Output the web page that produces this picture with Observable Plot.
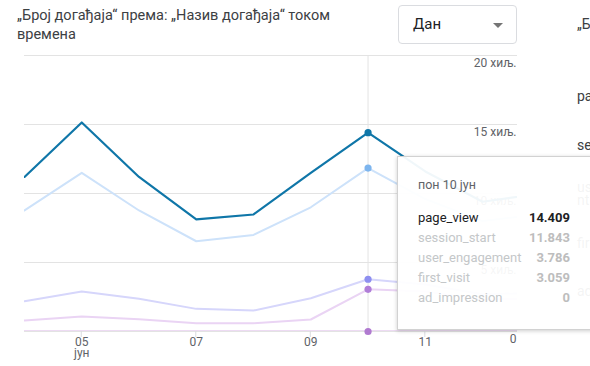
<!DOCTYPE html>
<html><head><meta charset="utf-8">
<script src="https://cdn.jsdelivr.net/npm/d3@7"></script>
<script src="https://cdn.jsdelivr.net/npm/@observablehq/plot@0.6"></script>
<style>
html,body{margin:0;padding:0;background:#fff;}
#wrap{position:relative;width:590px;height:366px;overflow:hidden;font-family:Roboto,"Noto Sans",sans-serif;}
#chart{position:absolute;left:0;top:0;}
.title{position:absolute;left:17px;top:6px;width:340px;font-size:14.5px;line-height:19px;color:#3c4043;}
.dd{position:absolute;left:398px;top:5px;width:117px;height:37px;border:1px solid #dadce0;border-radius:4px;box-sizing:content-box;}
.dd span{position:absolute;left:14px;top:9px;font-size:15px;color:#202124;}
.dd i{position:absolute;left:94px;top:17px;width:0;height:0;border-left:5px solid transparent;border-right:5px solid transparent;border-top:5px solid #757575;}
.side{position:absolute;left:577px;font-size:14px;color:#3c4043;white-space:nowrap;}
.tip{position:absolute;left:397px;top:156px;width:240px;height:172px;background:rgba(255,255,255,0.94);border:1px solid #d2d2d2;box-shadow:0 1px 4px rgba(0,0,0,0.2);}
.tip .d{position:absolute;left:20px;top:20px;font-size:12.5px;color:#5f6368;}
.tip .r{position:absolute;left:20px;width:152px;font-size:13px;color:#c4c7c9;}
.tip .r b{position:absolute;right:0;top:0;font-weight:700;color:#bdbdbd;}
.tip .r.on{color:#202124;}
.tip .r.on b{color:#202124;}
</style></head>
<body><div id="wrap"></div>
<script>
// ---- data ----
const days = [4, 5, 6, 7, 8, 9, 10, 11, 12, 13];
const pageView       = [11200, 15150, 11200, 8120, 8480, 11500, 14409, 11600, 9400, 10000];
const sessionStart   = [8770, 11500, 8770, 6540, 7000, 9000, 11843, 9600, 8000, 8500];
const userEngagement = [2200, 2900, 2370, 1640, 1520, 2410, 3786, 3400, 2700, 2800];
const firstVisit     = [800, 1090, 880, 600, 600, 870, 3059, 2900, 2300, 2400];
const adImpression   = [0, 0, 0, 0, 0, 0, 0, 0, 0, 0];
const seriesNames = ["page_view", "session_start", "user_engagement", "first_visit", "ad_impression"];
const xTicks = [5, 7, 9, 11];
const xTickLabels = ["05\nјун", "07", "09", "11"];
const yTicks = [0, 5000, 10000, 15000, 20000];
const yTickLabels = ["0", "5 хиљ.", "10 хиљ.", "15 хиљ.", "20 хиљ."];
const hoverDay = 10;
const hoverLabel = "пон 10 јун";
const titleText = "„Број догађаја“ према: „Назив догађаја“ током времена";
const periodText = "Дан";
const sideTexts = ["„Број", "page_view", "session_start", "user_engageme", "nt", "first_visit", "ad_impression"];

const allValues = [pageView, sessionStart, userEngagement, firstVisit, adImpression];
const lineColors = ["#0f76a8", "#cde2fa", "#d6d6fb", "#ead4f4", "#dcb8e8"];
const dotColors  = ["#0f76a8", "#7db5ee", "#8e8ff0", "#b07ed8", "#b07ad0"];

const rows = [];
allValues.forEach((vals, s) => vals.forEach((v, i) => rows.push({day: days[i], value: v, series: seriesNames[s]})));
const hi = days.indexOf(hoverDay);
const hoverRows = seriesNames.map((n, s) => ({day: hoverDay, value: allValues[s][hi], series: n}));
const colorOf = Object.fromEntries(seriesNames.map((n, s) => [n, lineColors[s]]));
const dotOf = Object.fromEntries(seriesNames.map((n, s) => [n, dotColors[s]]));
const order = ["ad_impression", "first_visit", "user_engagement", "session_start", "page_view"];

const plot = Plot.plot({
  width: 590, height: 366,
  marginTop: 55, marginBottom: 35, marginLeft: 24, marginRight: 73,
  style: {fontFamily: "Roboto, sans-serif", fontSize: "12px", color: "#5f6368", background: "transparent"},
  x: {type: "linear", domain: [4, 12.61], axis: null},
  y: {domain: [0, 20000], axis: null},
  marks: [
    Plot.gridY(yTicks, {stroke: "#e3e3e3", strokeOpacity: 1}),
    Plot.ruleX([hoverDay], {stroke: "#e3e3e3", strokeWidth: 1}),
    Plot.axisY({anchor: "right", ticks: yTicks, tickSize: 0, tickPadding: 0, textAnchor: "end", dx: -1, dy: 8,
      tickFormat: d => yTickLabels[yTicks.indexOf(d)], fill: "#5f6368", label: null}),
    ...order.map(n => Plot.line(rows.filter(r => r.series === n), {
      x: "day", y: "value", stroke: colorOf[n], strokeWidth: n === "page_view" ? 2.2 : 2, clip: true
    })),
    Plot.dot(hoverRows, {x: "day", y: "value", r: 3.6, fill: d => dotOf[d.series], stroke: null}),
    Plot.text(xTicks, {x: d => d, frameAnchor: "bottom", dy: 6, lineAnchor: "top",
      text: (d, i) => xTickLabels[i], fill: "#5f6368", fontSize: 12, lineHeight: 0.95,
      textAnchor: (d, i) => i === 0 ? "start" : (i === xTicks.length - 1 ? "end" : "middle")})
  ]
});
const wrap = document.getElementById("wrap");
plot.id = "chart";
wrap.appendChild(plot);
// short tick marks below the baseline, placed through the plot's scales
const xs = plot.scale("x");
const ys = plot.scale("y");
d3.select(plot).append("g").selectAll("line").data(xTicks).join("line")
  .attr("x1", d => xs.apply(d)).attr("x2", d => xs.apply(d))
  .attr("y1", ys.apply(0)).attr("y2", ys.apply(0) + 6)
  .attr("stroke", "#dadce0");

// title, dropdown, side texts
const t = document.createElement("div"); t.className = "title"; t.textContent = titleText; wrap.appendChild(t);
const dd = document.createElement("div"); dd.className = "dd";
dd.innerHTML = `<span>${periodText}</span><i></i>`; wrap.appendChild(dd);
const sideTops = [16, 88, 137, 179, 192, 235, 283];
sideTexts.forEach((s, i) => {
  const e = document.createElement("div"); e.className = "side"; e.style.top = sideTops[i] + "px"; e.textContent = s; wrap.appendChild(e);
});

// tooltip
const tip = document.createElement("div"); tip.className = "tip";
let html = `<div class="d">${hoverLabel}</div>`;
seriesNames.forEach((n, s) => {
  const v = allValues[s][hi];
  html += `<div class="r${s === 0 ? " on" : ""}" style="top:${53 + s * 20}px">${n}<b>${v.toLocaleString("de-DE")}</b></div>`;
});
tip.innerHTML = html;
wrap.appendChild(tip);
</script>
</body></html>
